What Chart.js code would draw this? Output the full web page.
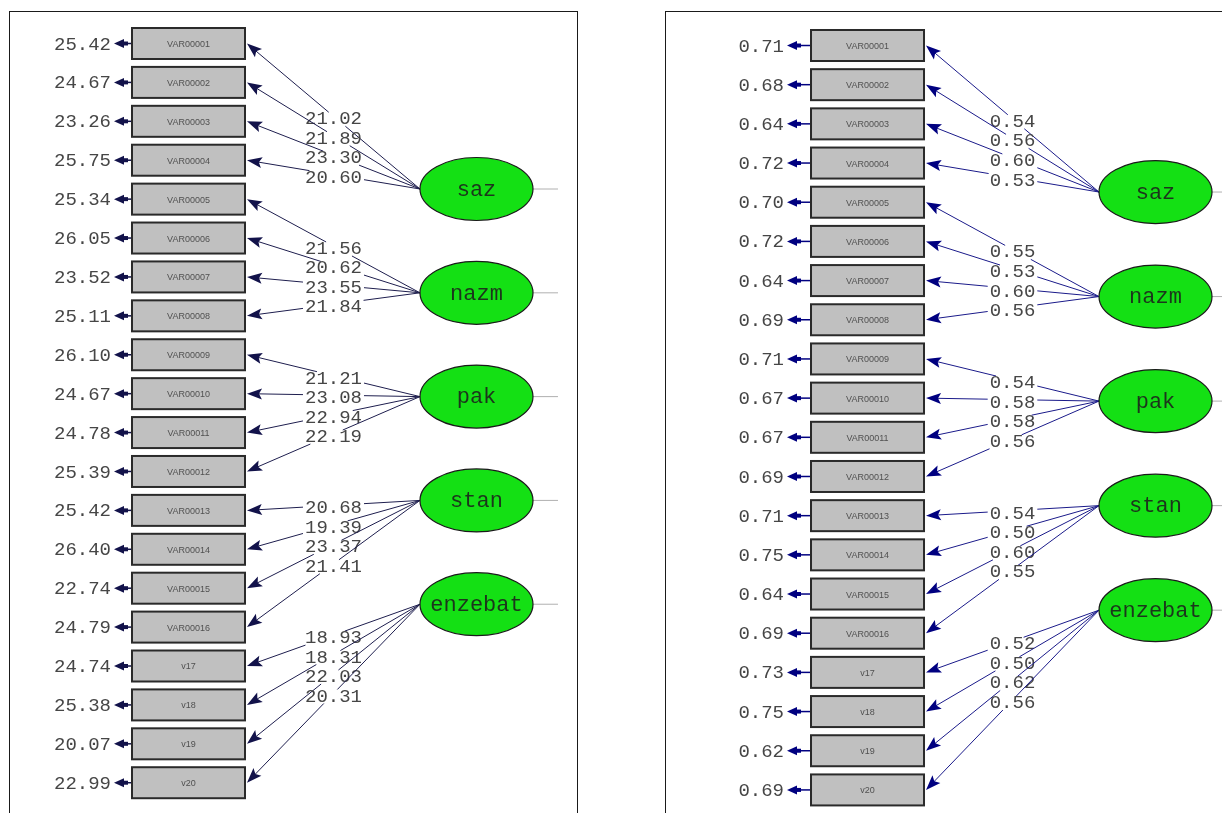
<!DOCTYPE html>
<html>
<head>
<meta charset="utf-8">
<script src="https://cdn.jsdelivr.net/npm/chart.js"></script>
<style>
    html, body { margin: 0; padding: 0; background: #fff; width: 1222px; height: 813px; overflow: hidden; }
    .painel { position: absolute; border: 1px solid #1a1a1a; background: #fff; overflow: hidden; }
    .painel canvas { display: block; }
    #painelT { left: 9px; top: 11px; width: 567px; height: 810px; }
    #painelP { left: 665px; top: 11px; width: 600px; height: 810px; }
</style>
</head>
<body>
<div class="painel" id="painelT"><canvas id="graficoT" width="567" height="805"></canvas></div>
<div class="painel" id="painelP"><canvas id="graficoP" width="556" height="805"></canvas></div>

<script>
// Observed variables and latent factors
var itens = ['VAR00001', 'VAR00002', 'VAR00003', 'VAR00004', 'VAR00005', 'VAR00006', 'VAR00007', 'VAR00008',
    'VAR00009', 'VAR00010', 'VAR00011', 'VAR00012', 'VAR00013', 'VAR00014', 'VAR00015', 'VAR00016',
    'v17', 'v18', 'v19', 'v20'];
var fatores = ['saz', 'nazm', 'pak', 'stan', 'enzebat'];
var fatorDoItem = [0, 0, 0, 0, 1, 1, 1, 1, 2, 2, 2, 2, 3, 3, 3, 3, 4, 4, 4, 4];

// t-values (left diagram)
var cargasT = [21.02, 21.89, 23.30, 20.60, 21.56, 20.62, 23.55, 21.84, 21.21, 23.08, 22.94, 22.19,
    20.68, 19.39, 23.37, 21.41, 18.93, 18.31, 22.03, 20.31];
var errosT = [25.42, 24.67, 23.26, 25.75, 25.34, 26.05, 23.52, 25.11, 26.10, 24.67, 24.78, 25.39,
    25.42, 26.40, 22.74, 24.79, 24.74, 25.38, 20.07, 22.99];

// standardized solution (right diagram)
var cargasP = [0.54, 0.56, 0.60, 0.53, 0.55, 0.53, 0.60, 0.56, 0.54, 0.58, 0.58, 0.56,
    0.54, 0.50, 0.60, 0.55, 0.52, 0.50, 0.62, 0.56];
var errosP = [0.71, 0.68, 0.64, 0.72, 0.70, 0.72, 0.64, 0.69, 0.71, 0.67, 0.67, 0.69,
    0.71, 0.75, 0.64, 0.69, 0.73, 0.75, 0.62, 0.69];

// layout: factors sit between item rows
var FATOR_INICIO = 3.74;
var FATOR_PASSO = 2.668;

var CAIXA_L = 113, CAIXA_A = 31, ELIPSE_RX = 56.5, ELIPSE_RY = 31.5;
var FONTE_NUM = '19px "Liberation Mono", "Courier New", monospace';
var FONTE_FATOR = '22px "Liberation Mono", "Courier New", monospace';
var FONTE_CAIXA = '9px "Liberation Sans", Arial, sans-serif';

function Seta(ctx, x, y, ang, comp, meia, entalhe) {
    ctx.beginPath();
    ctx.moveTo(x, y);
    ctx.lineTo(x - comp * Math.cos(ang) + meia * Math.sin(ang), y - comp * Math.sin(ang) - meia * Math.cos(ang));
    ctx.lineTo(x - comp * entalhe * Math.cos(ang), y - comp * entalhe * Math.sin(ang));
    ctx.lineTo(x - comp * Math.cos(ang) - meia * Math.sin(ang), y - comp * Math.sin(ang) + meia * Math.cos(ang));
    ctx.closePath();
    ctx.fill();
}

// parts of segment outside a rectangle (Liang-Barsky)
function PartesFora(x1, y1, x2, y2, r) {
    var dx = x2 - x1, dy = y2 - y1;
    var p = [-dx, dx, -dy, dy];
    var q = [x1 - r.x0, r.x1 - x1, y1 - r.y0, r.y1 - y1];
    var t0 = 0, t1 = 1;
    for (var k = 0; k < 4; k++) {
        if (p[k] === 0) {
            if (q[k] < 0) return [[x1, y1, x2, y2]];
        } else {
            var t = q[k] / p[k];
            if (p[k] < 0) t0 = Math.max(t0, t); else t1 = Math.min(t1, t);
        }
    }
    if (t0 > t1) return [[x1, y1, x2, y2]];
    var partes = [];
    if (t0 > 0) partes.push([x1, y1, x1 + dx * t0, y1 + dy * t0]);
    if (t1 < 1) partes.push([x1 + dx * t1, y1 + dy * t1, x2, y2]);
    return partes;
}

var pluginDiagrama = {
    id: 'diagrama',
    afterDatasetsDraw: function (chart) {
        var o = chart.options.plugins.diagrama;
        var ctx = chart.ctx;
        var pItens = chart.getDatasetMeta(0).data;
        var pFatores = chart.getDatasetMeta(1).data;

        ctx.save();
        ctx.font = FONTE_NUM;
        ctx.textAlign = 'center';
        ctx.textBaseline = 'middle';

        // factor -> item paths with loading labels
        for (var i = 0; i < pItens.length; i++) {
            var it = pItens[i];
            var f = pFatores[fatorDoItem[i]];
            var lx = f.x - ELIPSE_RX, ly = f.y;
            var bx = it.x + CAIXA_L / 2 + 2, by = it.y;
            var ang = Math.atan2(by - ly, bx - lx);
            var baseX = bx - 11 * Math.cos(ang), baseY = by - 11 * Math.sin(ang);

            var texto = o.cargas[i].toFixed(2);
            var mx = (lx + bx) / 2, my = (ly + by) / 2 + 3;
            ctx.font = FONTE_NUM;
            var w = ctx.measureText(texto).width;
            var r = { x0: mx - w / 2 - 2, x1: mx + w / 2 + 2, y0: my - 7, y1: my + 7 };

            ctx.strokeStyle = o.corLinha;
            ctx.lineWidth = 1;
            var partes = PartesFora(lx, ly, baseX, baseY, r);
            ctx.beginPath();
            partes.forEach(function (s) { ctx.moveTo(s[0], s[1]); ctx.lineTo(s[2], s[3]); });
            ctx.stroke();

            ctx.fillStyle = o.corSeta;
            Seta(ctx, bx, by, ang, 15, 5.5, 0.8);

            ctx.fillStyle = '#464646';
            ctx.fillText(texto, mx, my);
        }

        // observed boxes with error terms
        for (var j = 0; j < pItens.length; j++) {
            var c = pItens[j];
            ctx.fillStyle = '#c0c0c0';
            ctx.fillRect(c.x - CAIXA_L / 2, c.y - CAIXA_A / 2, CAIXA_L, CAIXA_A);
            ctx.strokeStyle = '#2a2a2a';
            ctx.lineWidth = 2;
            ctx.strokeRect(c.x - CAIXA_L / 2, c.y - CAIXA_A / 2, CAIXA_L, CAIXA_A);

            ctx.font = FONTE_CAIXA;
            ctx.fillStyle = '#505050';
            ctx.textAlign = 'center';
            ctx.fillText(itens[j], c.x, c.y + 1);

            var ex = c.x - CAIXA_L / 2 - 1;
            var tip = ex - o.folgaErro;
            ctx.strokeStyle = o.corSeta;
            ctx.lineWidth = 1.5;
            ctx.beginPath();
            ctx.moveTo(ex, c.y);
            ctx.lineTo(tip + 8, c.y);
            ctx.stroke();
            ctx.lineWidth = 4;
            ctx.beginPath();
            ctx.moveTo(tip + 6, c.y);
            ctx.lineTo(tip + 14, c.y);
            ctx.stroke();
            ctx.fillStyle = o.corSeta;
            Seta(ctx, tip, c.y, Math.PI, 10, 4.5, 1);

            ctx.font = FONTE_NUM;
            ctx.fillStyle = '#464646';
            ctx.textAlign = 'right';
            ctx.fillText(o.erros[j].toFixed(2), tip - 3, c.y + 1);
        }

        // latent factors
        for (var k = 0; k < pFatores.length; k++) {
            var e = pFatores[k];
            ctx.strokeStyle = '#b0b0b0';
            ctx.lineWidth = 1;
            ctx.beginPath();
            ctx.moveTo(e.x + ELIPSE_RX, e.y);
            ctx.lineTo(e.x + ELIPSE_RX + 25, e.y);
            ctx.stroke();

            ctx.beginPath();
            ctx.ellipse(e.x, e.y, ELIPSE_RX, ELIPSE_RY, 0, 0, Math.PI * 2);
            ctx.fillStyle = '#14e014';
            ctx.fill();
            ctx.strokeStyle = '#1a1a1a';
            ctx.lineWidth = 1.2;
            ctx.stroke();

            ctx.font = FONTE_FATOR;
            ctx.fillStyle = '#1c361c';
            ctx.textAlign = 'center';
            ctx.fillText(fatores[k], e.x, e.y + 1);
        }
        ctx.restore();
    }
};

function MontarDiagrama(idCanvas, cargas, erros, escalas, corLinha, corSeta, folgaErro) {
    var pontosItens = [];
    var indice = 0;
    while (indice < itens.length) {
        pontosItens.push({ x: 0, y: indice });
        indice++;
    }
    var pontosFatores = fatores.map(function (nome, k) {
        return { x: 1, y: FATOR_INICIO + FATOR_PASSO * k };
    });

    return new Chart(document.getElementById(idCanvas), {
        type: 'scatter',
        data: {
            datasets: [
                { label: 'itens', data: pontosItens, pointRadius: 0 },
                { label: 'fatores', data: pontosFatores, pointRadius: 0 }
            ]
        },
        options: {
            responsive: false,
            animation: false,
            layout: { padding: 0 },
            scales: {
                x: { type: 'linear', display: false, bounds: 'data', min: escalas.xMin, max: escalas.xMax },
                y: { type: 'linear', display: false, bounds: 'data', reverse: true, min: escalas.yMin, max: escalas.yMax }
            },
            plugins: {
                legend: { display: false },
                tooltip: { enabled: false },
                diagrama: { cargas: cargas, erros: erros, corLinha: corLinha, corSeta: corSeta, folgaErro: folgaErro }
            }
        },
        plugins: [pluginDiagrama]
    });
}

MontarDiagrama('graficoT', cargasT, errosT,
    { xMin: -0.6198, xMax: 1.349, yMin: -0.8097, yMax: 19.881 }, '#1e1e4e', '#12124a', 17);
MontarDiagrama('graficoP', cargasP, errosP,
    { xMin: -0.6997, xMax: 1.2309, yMin: -0.855, yMax: 19.691 }, '#1a1a8a', '#000080', 23);
</script>
</body>
</html>
